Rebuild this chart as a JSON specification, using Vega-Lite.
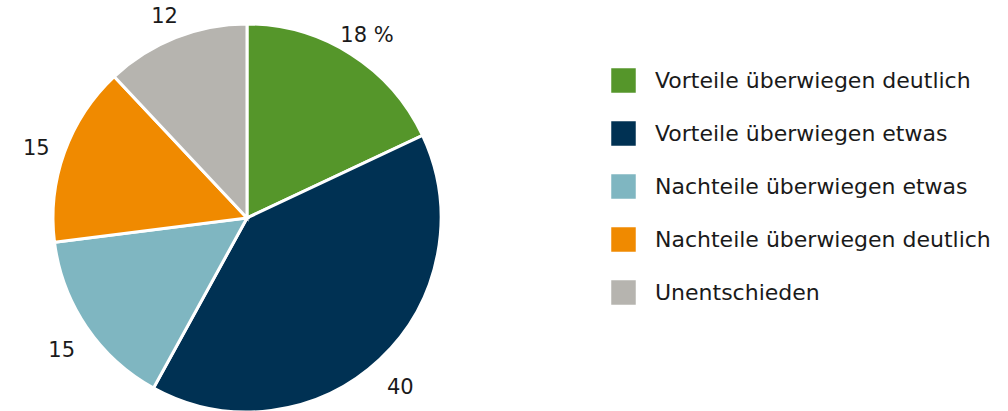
{
  "$schema": "https://vega.github.io/schema/vega-lite/v6.json",
  "width": 494,
  "height": 386,
  "autosize": {"type": "none"},
  "padding": {"top": 25, "left": 0, "right": 514, "bottom": 0},
  "background": "white",
  "config": {"view": {"stroke": null}, "font": "DejaVu Sans"},
  "data": {"values": [
    {"kategorie": "Vorteile überwiegen deutlich", "anteil": 18, "ord": 1, "label": "18 %"},
    {"kategorie": "Vorteile überwiegen etwas", "anteil": 40, "ord": 2, "label": "40"},
    {"kategorie": "Nachteile überwiegen etwas", "anteil": 15, "ord": 3, "label": "15"},
    {"kategorie": "Nachteile überwiegen deutlich", "anteil": 15, "ord": 4, "label": "15"},
    {"kategorie": "Unentschieden", "anteil": 12, "ord": 5, "label": "12"}
  ]},
  "encoding": {
    "theta": {"field": "anteil", "type": "quantitative", "stack": true},
    "order": {"field": "ord", "type": "quantitative", "sort": "ascending"}
  },
  "layer": [
    {
      "mark": {"type": "arc", "stroke": "white", "strokeWidth": 3, "outerRadius": 194},
      "encoding": {
        "color": {
          "field": "kategorie",
          "type": "nominal",
          "scale": {
            "domain": ["Vorteile überwiegen deutlich", "Vorteile überwiegen etwas", "Nachteile überwiegen etwas", "Nachteile überwiegen deutlich", "Unentschieden"],
            "range": ["#55962a", "#003153", "#7fb6c1", "#f08a00", "#b6b4af"]
          },
          "legend": {
            "title": null,
            "orient": "none",
            "legendX": 611,
            "legendY": 43,
            "padding": 0,
            "symbolType": "square",
            "symbolSize": 600,
            "symbolStrokeWidth": 0,
            "symbolOpacity": 1,
            "labelFontSize": 22,
            "labelFont": "DejaVu Sans",
            "labelColor": "#1a1a1a",
            "labelOffset": 19,
            "rowPadding": 28,
            "labelLimit": 500
          }
        }
      }
    },
    {
      "mark": {"type": "text", "radius": 224, "fontSize": 21, "color": "#1a1a1a", "align": "center", "baseline": "middle", "dy": 7},
      "encoding": {
        "text": {"field": "label", "type": "nominal"}
      }
    }
  ]
}
